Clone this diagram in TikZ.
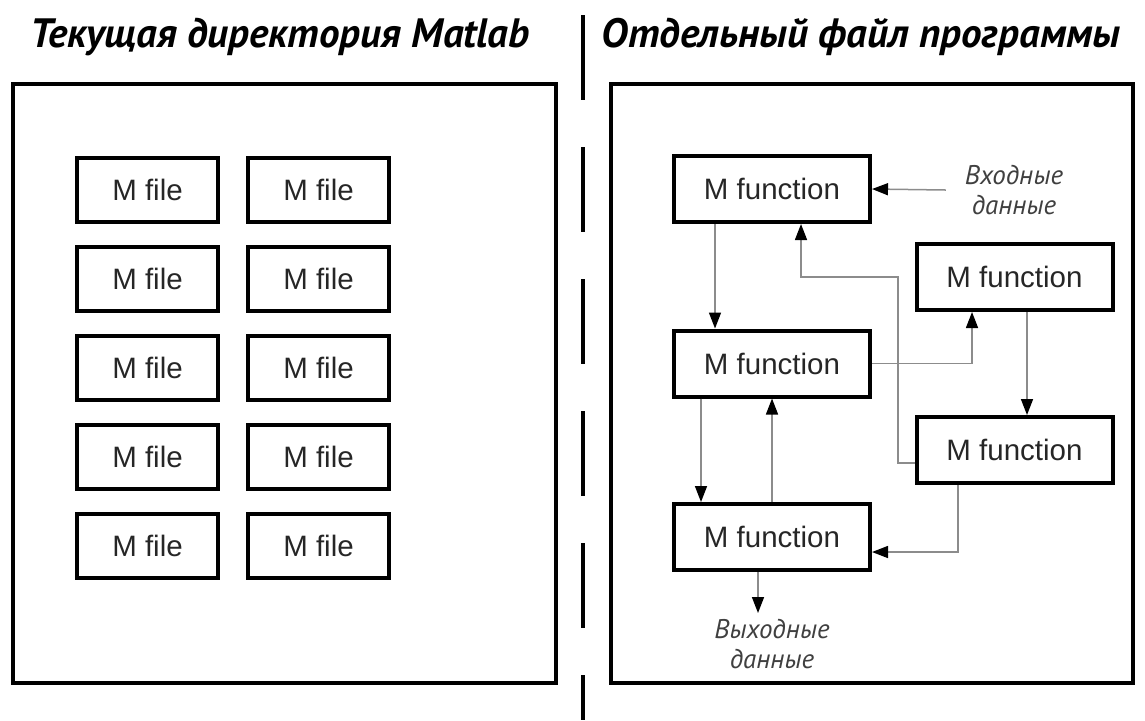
\documentclass[tikz,border=0pt]{standalone}
\usepackage{fontspec}
\setmainfont{Liberation Sans}
\newfontfamily\cursivefont{PT Sans}
\usepackage{tikz}
\usetikzlibrary{arrows.meta,calc}

\begin{document}
\begin{tikzpicture}[x=0.5pt,y=-0.5pt,
    frame/.style={draw, line width=2pt},
    mbox/.style={draw, line width=2pt, minimum width=70.5pt, minimum height=32pt,
        inner sep=0pt, font=\fontsize{14.75}{17}\selectfont, text=black!85},
    funcbox/.style={mbox, minimum width=98pt, minimum height=33pt},
    link/.style={draw=black!45, line width=0.75pt, -{Triangle[length=8pt,width=6pt,black]}},
    note/.style={font=\cursivefont\itshape\fontsize{13.5}{15}\selectfont, text=black!75, align=center},
    paneltitle/.style={font=\cursivefont\bfseries\itshape\fontsize{20.5}{23}\selectfont, anchor=base}]
\useasboundingbox (0,0) rectangle (1145,720);

% Divider
\draw[line width=2pt, dash pattern=on 42.5pt off 23.5pt] (583,15) -- (583,720);

% Panels
\draw[frame] (13,84) rectangle (556,683);
\draw[frame] (611,84) rectangle (1133,683);
\node[paneltitle] (titleL) at (280,47) {Текущая директория Matlab};
\node[paneltitle] (titleR) at (861,47) {Отдельный файл программы};

% M files
\foreach \r in {0,...,4} {
    \node[mbox] (file\r a) at (147.5, 189.5+89*\r) {M file};
    \node[mbox] (file\r b) at (318.5, 189.5+89*\r) {M file};
}

% M functions
\node[funcbox] (fTop) at (772,189) {M function};
\node[funcbox] (fRight) at (1014.5,277) {M function};
\node[funcbox] (fMid) at (772,363.5) {M function};
\node[funcbox] (fLow) at (1014.5,450) {M function};
\node[funcbox] (fBot) at (772,537) {M function};

% Input and output data
\node[note] (inData) at (1014,190) {Входные\\данные};
\node[note] (outData) at (772,644) {Выходные\\данные};
\coordinate (outEnd) at ($(fBot.south)+(-14,41)$);

% Calls
\draw[link] ($(inData.west)+(-12,0)$) -- (fTop.east);
\draw[link] ($(fTop.south)+(-57,0)$) -- ($(fMid.north)+(-57,0)$);
\draw[link] ($(fLow.west)+(0,13)$) -| (898,277) -| ($(fTop.south)+(29,0)$);
\draw[link] (fMid.east) -| ($(fRight.south)+(-42.5,0)$);
\draw[link] ($(fRight.south)+(12.5,0)$) -- ($(fLow.north)+(12.5,0)$);
\draw[link] ($(fMid.south)+(-71,0)$) -- ($(fBot.north)+(-71,0)$);
\draw[link] (fBot.north) -- (fMid.south);
\draw[link] ($(fLow.south)+(-56.5,0)$) |- ($(fBot.east)+(0,15)$);
\draw[link] ($(fBot.south)+(-14,0)$) -- (outEnd);
\end{tikzpicture}
\end{document}
